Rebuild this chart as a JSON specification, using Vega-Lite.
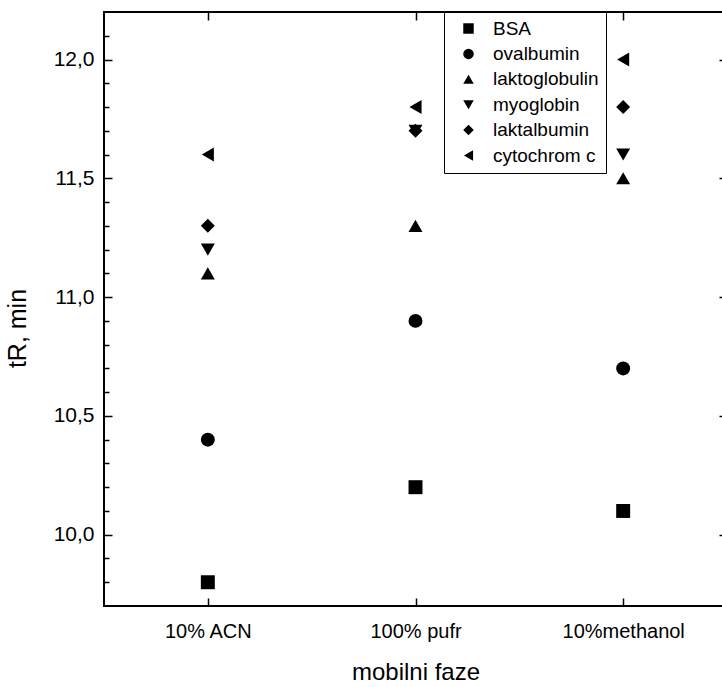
{
  "$schema": "https://vega.github.io/schema/vega-lite/v6.json",
  "autosize": {"type": "none"},
  "padding": {"left": 104, "top": 12, "right": 0, "bottom": 81},
  "width": 623,
  "height": 594,
  "background": "white",
  "config": {
    "view": {"stroke": "black", "strokeWidth": 2},
    "font": "Liberation Sans",
    "axis": {"grid": false, "domain": false, "labelColor": "black", "titleColor": "black", "tickColor": "black", "tickWidth": 1.5}
  },
  "data": {
    "values": [
      {"phase": "10% ACN", "protein": "BSA", "tR": 9.8},
      {"phase": "10% ACN", "protein": "ovalbumin", "tR": 10.4},
      {"phase": "10% ACN", "protein": "laktoglobulin", "tR": 11.1},
      {"phase": "10% ACN", "protein": "myoglobin", "tR": 11.2},
      {"phase": "10% ACN", "protein": "laktalbumin", "tR": 11.3},
      {"phase": "10% ACN", "protein": "cytochrom c", "tR": 11.6},
      {"phase": "100% pufr", "protein": "BSA", "tR": 10.2},
      {"phase": "100% pufr", "protein": "ovalbumin", "tR": 10.9},
      {"phase": "100% pufr", "protein": "laktoglobulin", "tR": 11.3},
      {"phase": "100% pufr", "protein": "myoglobin", "tR": 11.7},
      {"phase": "100% pufr", "protein": "laktalbumin", "tR": 11.7},
      {"phase": "100% pufr", "protein": "cytochrom c", "tR": 11.8},
      {"phase": "10%methanol", "protein": "BSA", "tR": 10.1},
      {"phase": "10%methanol", "protein": "ovalbumin", "tR": 10.7},
      {"phase": "10%methanol", "protein": "laktoglobulin", "tR": 11.5},
      {"phase": "10%methanol", "protein": "myoglobin", "tR": 11.6},
      {"phase": "10%methanol", "protein": "laktalbumin", "tR": 11.8},
      {"phase": "10%methanol", "protein": "cytochrom c", "tR": 12.0}
    ]
  },
  "resolve": {"axis": {"x": "independent", "y": "independent"}},
  "layer": [
    {
      "mark": {"type": "point", "filled": true, "opacity": 1, "size": 195, "color": "black"},
      "encoding": {
        "x": {
          "field": "phase", "type": "nominal",
          "scale": {"type": "point", "padding": 0.5, "domain": ["10% ACN", "100% pufr", "10%methanol"]},
          "axis": {"orient": "bottom", "ticks": false, "labelAngle": 0, "labelFontSize": 20, "labelPadding": 15, "title": "mobilni faze", "titleFontSize": 24, "titleFontWeight": "normal", "titlePadding": 19}
        },
        "y": {
          "field": "tR", "type": "quantitative",
          "scale": {"domain": [9.7, 12.2], "nice": false, "zero": false},
          "axis": {"orient": "left", "ticks": false, "values": [10, 10.5, 11, 11.5, 12], "labelExpr": "replace(format(datum.value, '.1f'), '.', ',')", "labelFontSize": 21, "labelPadding": 10, "title": "tR, min", "titleFontSize": 25, "titleFontWeight": "normal", "titlePadding": 23, "titleY": 316}
        },
        "shape": {
          "field": "protein", "type": "nominal",
          "scale": {"domain": ["BSA", "ovalbumin", "laktoglobulin", "myoglobin", "laktalbumin", "cytochrom c"], "range": ["square", "circle", "triangle-up", "triangle-down", "diamond", "triangle-left"]},
          "legend": {"title": null, "orient": "none", "legendX": 340, "legendY": 0, "strokeColor": "black", "fillColor": "white", "padding": 7, "symbolOffset": 8, "symbolSize": 110, "symbolFillColor": "black", "symbolStrokeWidth": 0, "labelFontSize": 19, "labelColor": "black", "labelOffset": 15, "rowPadding": 5.4, "labelFont": "Liberation Sans"}
        }
      }
    },
    {
      "mark": {"type": "point", "opacity": 0},
      "encoding": {
        "x": {"field": "phase", "type": "nominal", "axis": {"orient": "bottom", "labels": false, "title": null, "tickSize": -8}},
        "y": {"field": "tR", "type": "quantitative", "axis": {"orient": "left", "labels": false, "title": null, "tickSize": -8, "values": [10, 10.5, 11, 11.5, 12]}}
      }
    },
    {
      "mark": {"type": "point", "opacity": 0},
      "encoding": {
        "x": {"field": "phase", "type": "nominal", "axis": {"orient": "top", "labels": false, "title": null, "tickSize": -8}},
        "y": {"field": "tR", "type": "quantitative", "axis": {"orient": "left", "labels": false, "title": null, "tickSize": -5, "values": [9.8, 9.9, 10.1, 10.2, 10.3, 10.4, 10.6, 10.7, 10.8, 10.9, 11.1, 11.2, 11.3, 11.4, 11.6, 11.7, 11.8, 11.9, 12.1]}}
      }
    },
    {
      "mark": {"type": "point", "opacity": 0},
      "encoding": {
        "x": {"field": "phase", "type": "nominal", "axis": null},
        "y": {"field": "tR", "type": "quantitative", "axis": {"orient": "right", "labels": false, "title": null, "tickSize": -8, "values": [10, 10.5, 11, 11.5, 12]}}
      }
    },
    {
      "mark": {"type": "point", "opacity": 0},
      "encoding": {
        "x": {"field": "phase", "type": "nominal", "axis": null},
        "y": {"field": "tR", "type": "quantitative", "axis": {"orient": "right", "labels": false, "title": null, "tickSize": -5, "values": [9.8, 9.9, 10.1, 10.2, 10.3, 10.4, 10.6, 10.7, 10.8, 10.9, 11.1, 11.2, 11.3, 11.4, 11.6, 11.7, 11.8, 11.9, 12.1]}}
      }
    }
  ]
}
